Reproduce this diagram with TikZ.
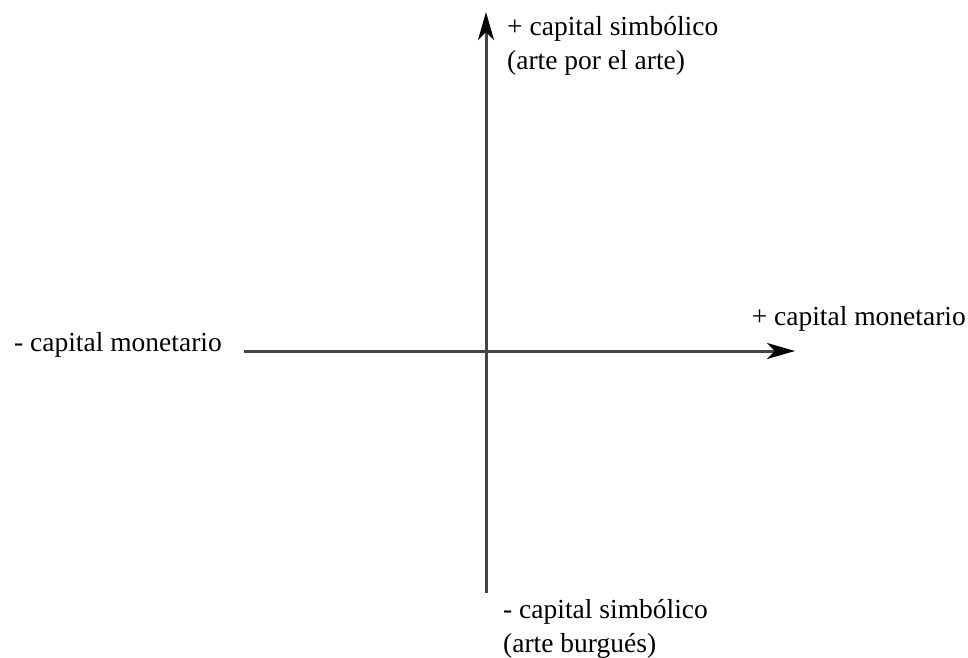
\documentclass[tikz,border=0pt]{standalone}
\usepackage{fontspec}
\setmainfont{Liberation Serif}
\usepackage{tikz}
\usetikzlibrary{arrows.meta}
\definecolor{axisGray}{RGB}{68, 68, 68}

\begin{document}
\begin{tikzpicture}[x=1pt, y=-1pt,
    axis/.style={axisGray, line width=3pt, -{Stealth[length=28pt, width=16pt, inset=8pt, black]}},
    lbl/.style={inner sep=0pt, font=\fontsize{27.5}{34}\selectfont, align=left}]
      \useasboundingbox (0,0) rectangle (968,657);

      % axis ends
      \coordinate (o) at (486,351);
      \coordinate (xl) at (244,351);
      \coordinate (xr) at (795,351);
      \coordinate (yb) at (486,593);
      \coordinate (yt) at (486,12);

      \draw[axis] (xl) -- (xr);
      \draw[axis] (yb) -- (yt);

      % labels (base = last line)
      \node[lbl, anchor=base west] (symHi) at (507,69) {+ capital simbólico\\(arte por el arte)};
      \node[lbl, anchor=base west] (symLo) at (503,652) {- capital simbólico\\(arte burgués)};
      \node[lbl, anchor=base east] (monHi) at (966,325) {+ capital monetario};
      \node[lbl, anchor=base east] (monLo) at (222,351) {- capital monetario};
    \end{tikzpicture}
\end{document}
